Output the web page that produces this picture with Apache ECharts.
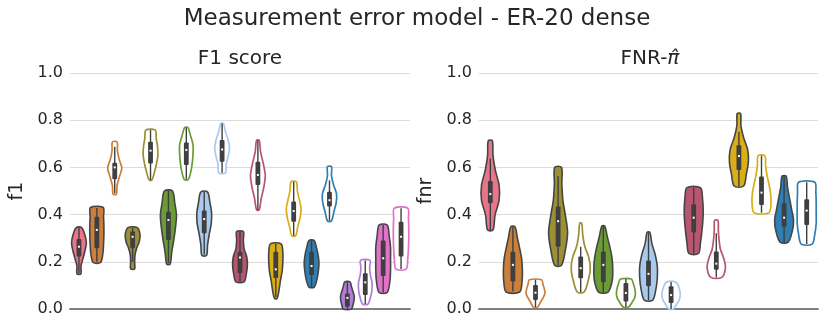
<!DOCTYPE html>
<html>
<head>
  <meta charset="utf-8">
  <title>Measurement error model - ER-20 dense</title>
  <script src="https://cdn.jsdelivr.net/npm/echarts@6/dist/echarts.min.js"></script>
  <style>
    html, body { margin: 0; padding: 0; background: #fff; }
    #chart { width: 830px; height: 332px; }
  </style>
</head>
<body>
  <div id="chart"></div>
  <script type="application/javascript">
      // ---- F1 score panel (19 violins) ----
      var f1Groups = ['pink', 'orange', 'orange', 'olive', 'olive', 'green', 'green', 'lightblue', 'lightblue',
          'crimson', 'crimson', 'yellow', 'yellow', 'blue', 'blue', 'purple', 'purple', 'magenta', 'magenta'];
      var f1Filled = [1, 1, 0, 1, 0, 1, 0, 1, 0, 1, 0, 1, 0, 1, 0, 1, 0, 1, 0];
      var f1Lo  = [0.149, 0.197, 0.487, 0.170, 0.546, 0.190, 0.549, 0.227, 0.577, 0.115, 0.420, 0.045, 0.310, 0.093, 0.373, 0.000, 0.021, 0.070, 0.169];
      var f1Hi  = [0.345, 0.430, 0.708, 0.345, 0.758, 0.500, 0.769, 0.496, 0.786, 0.328, 0.715, 0.276, 0.539, 0.290, 0.603, 0.115, 0.206, 0.356, 0.427];
      var f1WLo = [0.152, 0.200, 0.490, 0.200, 0.546, 0.195, 0.550, 0.230, 0.577, 0.115, 0.420, 0.050, 0.310, 0.093, 0.373, 0.000, 0.021, 0.070, 0.169];
      var f1WHi = [0.343, 0.428, 0.688, 0.343, 0.758, 0.500, 0.769, 0.496, 0.786, 0.328, 0.715, 0.276, 0.539, 0.290, 0.545, 0.115, 0.206, 0.356, 0.427];
      var f1Q1  = [0.222, 0.257, 0.550, 0.257, 0.617, 0.292, 0.610, 0.321, 0.624, 0.151, 0.525, 0.131, 0.370, 0.144, 0.434, 0.010, 0.059, 0.140, 0.222];
      var f1Med = [0.264, 0.335, 0.600, 0.306, 0.671, 0.377, 0.674, 0.381, 0.676, 0.218, 0.568, 0.168, 0.415, 0.182, 0.461, 0.047, 0.113, 0.215, 0.306];
      var f1Q3  = [0.297, 0.391, 0.620, 0.328, 0.709, 0.412, 0.705, 0.417, 0.716, 0.243, 0.624, 0.243, 0.455, 0.243, 0.497, 0.066, 0.151, 0.290, 0.370];
      // density profile, from bottom (lo) to top (hi)
      var f1Dens = [
          [6, 6, 12, 18, 22, 18, 8],
          [11, 18, 20, 21, 21, 20, 19],
          [5, 7, 14, 21, 13, 8, 7],
          [6, 6, 7, 12, 20, 22, 14],
          [4, 12, 18, 22, 21, 17, 14],
          [5, 10, 16, 21, 24, 19, 12],
          [6, 14, 18, 20, 20, 13, 5],
          [7, 10, 15, 21, 22, 17, 10],
          [10, 12, 18, 22, 18, 10, 4],
          [12, 19, 22, 20, 12, 10, 10],
          [4, 10, 18, 22, 16, 8, 4],
          [4, 10, 14, 19, 21, 21, 16],
          [6, 12, 19, 22, 17, 11, 8],
          [8, 16, 20, 22, 20, 15, 8],
          [6, 13, 20, 21, 12, 6, 6],
          [12, 17, 20, 20, 16, 12, 8],
          [8, 16, 20, 20, 15, 13, 14],
          [12, 20, 22, 22, 22, 18, 12],
          [15, 20, 22, 23, 23, 22, 20]
      ];

      // ---- FNR panel (15 violins) ----
      var fnrGroups = ['pink', 'orange', 'orange', 'olive', 'olive', 'green', 'green', 'lightblue', 'lightblue',
          'crimson', 'crimson', 'yellow', 'yellow', 'blue', 'blue'];
      var fnrFilled = [1, 1, 0, 1, 0, 1, 0, 1, 0, 1, 0, 1, 0, 1, 0];
      var fnrLo  = [0.335, 0.072, 0.008, 0.185, 0.072, 0.072, 0.008, 0.037, 0.000, 0.235, 0.134, 0.521, 0.408, 0.283, 0.275];
      var fnrHi  = [0.713, 0.349, 0.124, 0.600, 0.363, 0.352, 0.127, 0.325, 0.114, 0.514, 0.375, 0.828, 0.649, 0.563, 0.537];
      var fnrWLo = [0.335, 0.075, 0.008, 0.185, 0.072, 0.072, 0.008, 0.037, 0.000, 0.235, 0.134, 0.521, 0.408, 0.283, 0.275];
      var fnrWHi = [0.638, 0.349, 0.124, 0.564, 0.264, 0.352, 0.127, 0.325, 0.114, 0.514, 0.321, 0.751, 0.649, 0.563, 0.537];
      var fnrQ1  = [0.448, 0.116, 0.038, 0.264, 0.130, 0.113, 0.032, 0.096, 0.025, 0.324, 0.166, 0.589, 0.441, 0.349, 0.356];
      var fnrMed = [0.487, 0.187, 0.069, 0.372, 0.173, 0.187, 0.068, 0.149, 0.059, 0.387, 0.192, 0.648, 0.493, 0.387, 0.417];
      var fnrQ3  = [0.542, 0.243, 0.102, 0.434, 0.222, 0.244, 0.110, 0.206, 0.096, 0.444, 0.244, 0.694, 0.561, 0.448, 0.465];
      var fnrDens = [
          [8, 14, 26, 26, 15, 8, 6],
          [20, 27, 28, 26, 20, 13, 6],
          [6, 14, 22, 28, 26, 22, 18],
          [10, 22, 28, 22, 14, 11, 10],
          [10, 22, 28, 24, 12, 6, 3],
          [14, 26, 28, 26, 20, 12, 4],
          [8, 18, 26, 28, 26, 22, 16],
          [12, 22, 26, 26, 20, 10, 4],
          [6, 16, 24, 27, 26, 22, 14],
          [14, 20, 24, 27, 28, 26, 20],
          [16, 27, 22, 12, 8, 6, 5],
          [14, 22, 28, 26, 14, 6, 5],
          [22, 28, 27, 22, 16, 12, 10],
          [12, 24, 28, 22, 16, 10, 6],
          [16, 24, 28, 28, 28, 27, 24]
      ];

      var palette = {
          pink: '#e8758c', orange: '#cc7f3a', olive: '#9d8f33', green: '#6c9c35',
          lightblue: '#a7caee', crimson: '#b8566f', yellow: '#d9ae16', blue: '#2f7eb4',
          purple: '#b27ed9', magenta: '#e271c9'
      };
      var dark = '#3f3f3f';
      var txt = '#262626';

      function violinRenderer(d) {
          return function (params, api) {
              var i = params.dataIndex;
              var band = api.size([1, 0])[0];
              var cx = api.coord([i, 0])[0];
              var prof = d.dens[i];
              var n = prof.length;
              var right = [], left = [];
              for (var k = 0; k < n; k++) {
                  var v = d.lo[i] + (d.hi[i] - d.lo[i]) * k / (n - 1);
                  var y = api.coord([i, v])[1];
                  var hw = prof[k] / d.densMax * d.maxFrac * band;
                  right.push([cx + hw, y]);
                  left.unshift([cx - hw, y]);
              }
              var col = palette[d.groups[i]];
              var filled = d.filled[i] === 1;
              var yQ1 = api.coord([i, d.q1[i]])[1];
              var yQ3 = api.coord([i, d.q3[i]])[1];
              var yMed = api.coord([i, d.med[i]])[1];
              return {
                  type: 'group',
                  children: [
                      {
                          type: 'polygon',
                          shape: { points: right.concat(left), smooth: 0.3 },
                          style: {
                              fill: filled ? col : '#ffffff',
                              stroke: filled ? '#454545' : col,
                              lineWidth: filled ? 1.6 : 1.7
                          }
                      },
                      {
                          type: 'line',
                          shape: {
                              x1: cx, y1: api.coord([i, d.wlo[i]])[1],
                              x2: cx, y2: api.coord([i, d.whi[i]])[1]
                          },
                          style: { stroke: dark, lineWidth: 1.4 }
                      },
                      {
                          type: 'rect',
                          shape: { x: cx - 2.4, y: yQ3, width: 4.8, height: yQ1 - yQ3, r: 1 },
                          style: { fill: dark }
                      },
                      {
                          type: 'rect',
                          shape: { x: cx - 1, y: yMed - 1, width: 2, height: 2 },
                          style: { fill: '#ffffff' }
                      }
                  ]
              };
          };
      }

      function idxData(arr) {
          return arr.map(function (_, i) { return [i, 0]; });
      }

      var yAxisBase = {
          type: 'value',
          min: 0,
          max: 1,
          interval: 0.2,
          nameLocation: 'middle',
          nameGap: 43,
          nameTextStyle: { fontSize: 19, color: txt, fontFamily: 'DejaVu Sans' },
          axisLine: { show: false },
          axisTick: { show: false },
          axisLabel: {
              fontSize: 16, color: txt, fontFamily: 'DejaVu Sans', margin: 7,
              formatter: function (v) { return v.toFixed(1); }
          },
          splitLine: { lineStyle: { color: '#dcdcdc', width: 1 } }
      };

      var xAxisBase = {
          type: 'category',
          boundaryGap: true,
          axisLine: { show: true, lineStyle: { color: '#808080', width: 2 } },
          axisTick: { show: false },
          axisLabel: { show: false },
          splitLine: { show: false }
      };

      var myChart = echarts.init(document.getElementById('chart'), null, { renderer: 'canvas' });
      myChart.setOption({
          animation: false,
          backgroundColor: '#ffffff',
          title: [
              {
                  text: 'Measurement error model - ER-20 dense',
                  left: 412, top: 3, textAlign: 'center',
                  textStyle: { fontSize: 23, fontWeight: 'normal', color: txt, fontFamily: 'DejaVu Sans' }
              },
              {
                  text: 'F1 score',
                  left: 235, top: 44, textAlign: 'center',
                  textStyle: { fontSize: 20, fontWeight: 'normal', color: txt, fontFamily: 'DejaVu Sans' }
              },
              {
                  text: 'FNR-{pi|π̂}',
                  left: 645, top: 44, textAlign: 'center',
                  textStyle: {
                      fontSize: 20, fontWeight: 'normal', color: txt, fontFamily: 'DejaVu Sans',
                      rich: { pi: { fontSize: 20, fontStyle: 'italic', color: txt, fontFamily: 'DejaVu Sans' } }
                  }
              }
          ],
          grid: [
              { left: 70, right: 420, top: 73, bottom: 23 },
              { left: 479, right: 12, top: 73, bottom: 23 }
          ],
          xAxis: [
              Object.assign({ gridIndex: 0, data: f1Groups.map(function (g, i) { return g + i; }) }, xAxisBase),
              Object.assign({ gridIndex: 1, data: fnrGroups.map(function (g, i) { return g + i; }) }, xAxisBase)
          ],
          yAxis: [
              Object.assign({ gridIndex: 0, name: 'f1' }, yAxisBase),
              Object.assign({ gridIndex: 1, name: 'fnr' }, yAxisBase)
          ],
          series: [
              {
                  type: 'custom',
                  xAxisIndex: 0, yAxisIndex: 0,
                  renderItem: violinRenderer({
                      groups: f1Groups, filled: f1Filled, lo: f1Lo, hi: f1Hi, wlo: f1WLo, whi: f1WHi,
                      q1: f1Q1, med: f1Med, q3: f1Q3, dens: f1Dens, densMax: 24, maxFrac: 0.45
                  }),
                  data: idxData(f1Lo),
                  z: 3
              },
              {
                  type: 'custom',
                  xAxisIndex: 1, yAxisIndex: 1,
                  renderItem: violinRenderer({
                      groups: fnrGroups, filled: fnrFilled, lo: fnrLo, hi: fnrHi, wlo: fnrWLo, whi: fnrWHi,
                      q1: fnrQ1, med: fnrMed, q3: fnrQ3, dens: fnrDens, densMax: 28, maxFrac: 0.42
                  }),
                  data: idxData(fnrLo),
                  z: 3
              }
          ]
      });
  </script>
</body>
</html>
